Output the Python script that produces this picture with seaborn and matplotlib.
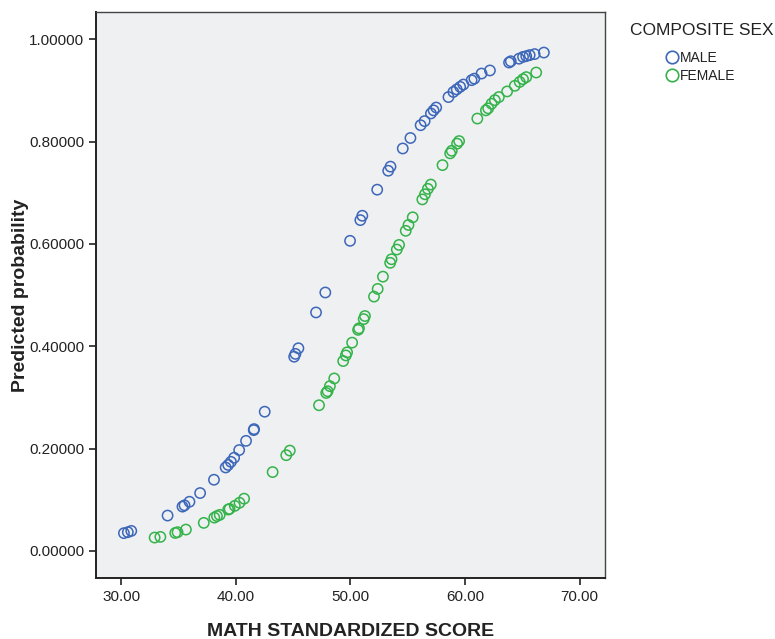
import pandas as pd
import numpy as np
import matplotlib
matplotlib.use("Agg")
import matplotlib.pyplot as plt
from matplotlib.lines import Line2D
import seaborn as sns

# values
male_score = [30.23, 30.57, 30.87, 34.04, 35.34, 35.52, 35.95, 36.88, 38.09, 39.11,
              39.33, 39.57, 39.85, 40.29, 40.89, 41.56, 41.59, 42.52, 45.09, 45.20,
              45.46, 47.00, 47.81, 49.97, 50.87, 51.04, 52.34, 53.30, 53.50, 54.57,
              55.24, 56.13, 56.48, 57.03, 57.26, 57.49, 58.56, 58.99, 59.28, 59.58,
              59.86, 60.58, 60.82, 61.45, 62.18, 63.85, 64.00, 64.72, 65.07, 65.35,
              65.65, 66.08, 66.89]
male_prob = [0.0346, 0.0365, 0.0390, 0.0690, 0.0865, 0.0890, 0.0960, 0.1130, 0.1390, 0.1630,
             0.1680, 0.1740, 0.1820, 0.1970, 0.2150, 0.2360, 0.2380, 0.2720, 0.3795, 0.3850,
             0.3960, 0.4660, 0.5050, 0.6060, 0.6465, 0.6550, 0.7060, 0.7430, 0.7510, 0.7865,
             0.8070, 0.8320, 0.8400, 0.8550, 0.8610, 0.8666, 0.8870, 0.8970, 0.9020, 0.9070,
             0.9115, 0.9200, 0.9230, 0.9330, 0.9390, 0.9545, 0.9570, 0.9620, 0.9655, 0.9670,
             0.9690, 0.9710, 0.9740]

female_score = [32.91, 33.41, 34.71, 34.91, 35.64, 37.20, 38.12, 38.35, 38.59, 39.33,
                39.45, 39.91, 40.32, 40.72, 43.21, 44.40, 44.71, 47.26, 47.89, 48.01,
                48.21, 48.59, 49.37, 49.60, 49.71, 50.15, 50.67, 50.75, 51.16, 51.27,
                52.06, 52.38, 52.84, 53.47, 53.59, 54.05, 54.25, 54.83, 55.07, 55.44,
                56.28, 56.51, 56.76, 57.02, 58.04, 58.71, 58.85, 59.31, 59.49, 61.08,
                61.83, 62.03, 62.32, 62.61, 62.96, 63.68, 64.35, 64.78, 65.07, 65.35,
                66.22]
female_prob = [0.0260, 0.0273, 0.0350, 0.0365, 0.0416, 0.0547, 0.0650, 0.0680, 0.0703, 0.0807,
               0.0820, 0.0880, 0.0940, 0.1020, 0.1540, 0.1870, 0.1960, 0.2846, 0.3086, 0.3120,
               0.3220, 0.3370, 0.3710, 0.3820, 0.3880, 0.4070, 0.4320, 0.4350, 0.4530, 0.4590,
               0.4970, 0.5120, 0.5360, 0.5630, 0.5700, 0.5890, 0.5980, 0.6256, 0.6370, 0.6520,
               0.6870, 0.6970, 0.7076, 0.7160, 0.7540, 0.7770, 0.7820, 0.7960, 0.8010, 0.8450,
               0.8610, 0.8650, 0.8740, 0.8810, 0.8870, 0.8980, 0.9090, 0.9166, 0.9220, 0.9260,
               0.9350]

sex_labels = ["MALE", "FEMALE"]
x_ticks = [30, 40, 50, 60, 70]
y_ticks = [0.0, 0.2, 0.4, 0.6, 0.8, 1.0]

df = pd.DataFrame({
    "score": male_score + female_score,
    "prob": male_prob + female_prob,
    "sex": [sex_labels[0]] * len(male_score) + [sex_labels[1]] * len(female_score),
})

sns.set_style("ticks")
plt.rcParams["font.family"] = ["Liberation Sans", "DejaVu Sans"]

colors = {"MALE": "#3d67b9", "FEMALE": "#34b34a"}

fig = plt.figure(figsize=(7.75, 6.39), dpi=100)
ax = fig.add_axes([0.124, 0.0955, 0.657, 0.8855])
ax.set_facecolor("#eff0f2")

sns.scatterplot(data=df, x="score", y="prob", hue="sex", palette=colors,
                s=55, linewidth=1.1, legend=False, ax=ax)

# hollow circles like the SPSS output
coll = ax.collections[0]
fc = coll.get_facecolors()
coll.set_edgecolors(fc)
coll.set_facecolors("none")

ax.set_xlim(27.8, 72.25)
ax.set_ylim(-0.053, 1.053)
ax.set_xticks(x_ticks)
ax.set_yticks(y_ticks)
ax.set_xticklabels([f"{v:.2f}" for v in x_ticks], fontsize=11, color="#222222")
ax.set_yticklabels([f"{v:.5f}" for v in y_ticks], fontsize=11, color="#222222")
ax.tick_params(axis="both", direction="out", length=5, width=1.2, color="#222222")

for side in ["left", "bottom"]:
    ax.spines[side].set_linewidth(1.4)
    ax.spines[side].set_color("#222222")
for side in ["top", "right"]:
    ax.spines[side].set_visible(True)
    ax.spines[side].set_linewidth(1.0)
    ax.spines[side].set_color("#444444")

ax.set_xlabel("MATH STANDARDIZED SCORE", fontsize=14, fontweight="bold", color="#222222", labelpad=14)
ax.set_ylabel("Predicted probability", fontsize=14, fontweight="bold", color="#222222")
ax.yaxis.set_label_coords(-0.131, 0.5)

# legend: title on its own line, entries indented below it
fig.text(0.813, 0.953, "COMPOSITE SEX", fontsize=12.5, color="#222222", va="center")
handles = [Line2D([], [], marker="o", linestyle="none", markersize=9,
                  markerfacecolor="none", markeredgecolor=colors[s], markeredgewidth=1.2,
                  label=s) for s in sex_labels]
leg = fig.legend(handles=handles, loc="upper left", bbox_to_anchor=(0.858, 0.92),
                 frameon=False, fontsize=10, handletextpad=0.1, labelspacing=0.25,
                 borderaxespad=0, borderpad=0, handlelength=1.0)
for t in leg.get_texts():
    t.set_color("#222222")

fig.savefig("out.png", dpi=100)
plt.close(fig)
